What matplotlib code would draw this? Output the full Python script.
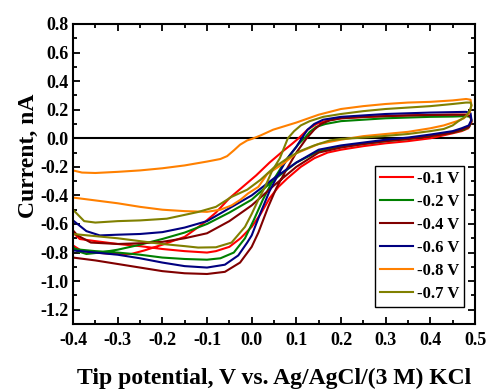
import matplotlib
matplotlib.use("Agg")
import matplotlib.pyplot as plt
from matplotlib.ticker import MultipleLocator

plt.rcParams["font.family"] = ["Liberation Serif", "DejaVu Serif"]
plt.rcParams["font.weight"] = "bold"
plt.rcParams["axes.unicode_minus"] = False

# tip CVs, one closed loop per substrate potential (x in V, y in nA)
red_x = [-0.40, -0.38, -0.35, -0.31, -0.27, -0.24, -0.20, -0.15, -0.11, -0.08, -0.05, -0.02, 0.01, 0.04, 0.07, 0.09, 0.105, 0.125, 0.145, 0.17, 0.20, 0.25, 0.30, 0.35, 0.40, 0.45, 0.48, 0.49,
         0.492, 0.485, 0.47, 0.45, 0.40, 0.35, 0.30, 0.25, 0.20, 0.17, 0.14, 0.11, 0.08, 0.06, 0.04, 0.02, 0.00, -0.025, -0.05, -0.08, -0.10, -0.15, -0.20, -0.25, -0.30, -0.35, -0.385, -0.40]
red_y = [-0.75, -0.79, -0.80, -0.81, -0.81, -0.785, -0.745, -0.69, -0.60, -0.52, -0.42, -0.34, -0.26, -0.17, -0.09, -0.04, 0.00, 0.06, 0.10, 0.125, 0.14, 0.148, 0.155, 0.16, 0.163, 0.165, 0.165, 0.15,
         0.11, 0.07, 0.05, 0.035, 0.00, -0.02, -0.035, -0.055, -0.08, -0.10, -0.14, -0.20, -0.28, -0.34, -0.42, -0.53, -0.62, -0.70, -0.76, -0.79, -0.80, -0.79, -0.775, -0.755, -0.74, -0.72, -0.705, -0.66]

green_x = [-0.40, -0.35, -0.30, -0.25, -0.20, -0.15, -0.10, -0.07, -0.04, -0.015, 0.005, 0.025, 0.045, 0.065, 0.085, 0.105, 0.118, 0.13, 0.145, 0.165, 0.20, 0.25, 0.30, 0.35, 0.40, 0.45, 0.48, 0.49,
           0.492, 0.487, 0.475, 0.45, 0.40, 0.35, 0.30, 0.25, 0.20, 0.15, 0.10, 0.05, 0.00, -0.05, -0.10, -0.15, -0.20, -0.25, -0.30, -0.34, -0.37, -0.39, -0.40]
green_y = [-0.775, -0.79, -0.80, -0.815, -0.835, -0.845, -0.85, -0.84, -0.80, -0.70, -0.57, -0.43, -0.31, -0.21, -0.12, -0.04, 0.00, 0.045, 0.08, 0.10, 0.12, 0.13, 0.14, 0.145, 0.15, 0.152, 0.155, 0.15,
           0.12, 0.08, 0.06, 0.04, 0.015, -0.005, -0.02, -0.04, -0.06, -0.09, -0.17, -0.29, -0.43, -0.52, -0.60, -0.66, -0.705, -0.745, -0.78, -0.80, -0.81, -0.79, -0.76]

brown_x = [-0.40, -0.35, -0.30, -0.25, -0.20, -0.15, -0.10, -0.06, -0.026, 0.00, 0.015, 0.037, 0.055, 0.075, 0.10, 0.123, 0.14, 0.155, 0.175, 0.20, 0.25, 0.30, 0.35, 0.40, 0.45, 0.48, 0.49,
           0.492, 0.486, 0.47, 0.45, 0.40, 0.35, 0.30, 0.25, 0.20, 0.15, 0.10, 0.05, 0.00, -0.05, -0.10, -0.15, -0.20, -0.25, -0.30, -0.36, -0.39, -0.40]
brown_y = [-0.835, -0.855, -0.88, -0.905, -0.93, -0.945, -0.95, -0.935, -0.87, -0.76, -0.66, -0.48, -0.35, -0.235, -0.10, 0.00, 0.06, 0.10, 0.125, 0.14, 0.15, 0.155, 0.16, 0.163, 0.165, 0.165, 0.155,
           0.12, 0.08, 0.06, 0.04, 0.015, -0.005, -0.02, -0.04, -0.065, -0.10, -0.20, -0.33, -0.47, -0.58, -0.665, -0.70, -0.725, -0.735, -0.74, -0.73, -0.68, -0.645]

blue_x = [-0.40, -0.35, -0.30, -0.25, -0.20, -0.15, -0.10, -0.06, -0.03, -0.01, 0.00, 0.02, 0.04, 0.06, 0.08, 0.10, 0.112, 0.125, 0.14, 0.16, 0.20, 0.25, 0.30, 0.35, 0.40, 0.45, 0.48, 0.49,
          0.492, 0.486, 0.47, 0.45, 0.40, 0.35, 0.30, 0.25, 0.20, 0.15, 0.10, 0.05, 0.00, -0.05, -0.10, -0.15, -0.20, -0.25, -0.30, -0.34, -0.37, -0.39, -0.40]
blue_y = [-0.785, -0.80, -0.815, -0.84, -0.87, -0.895, -0.905, -0.885, -0.82, -0.73, -0.68, -0.52, -0.37, -0.25, -0.14, -0.06, 0.00, 0.06, 0.10, 0.13, 0.15, 0.16, 0.17, 0.175, 0.18, 0.183, 0.185, 0.175,
          0.13, 0.09, 0.07, 0.05, 0.026, 0.005, -0.01, -0.03, -0.05, -0.08, -0.17, -0.28, -0.40, -0.49, -0.58, -0.625, -0.657, -0.67, -0.675, -0.68, -0.65, -0.60, -0.575]

orange_x = [-0.40, -0.38, -0.35, -0.30, -0.25, -0.20, -0.15, -0.10, -0.07, -0.055, -0.04, -0.026, -0.01, 0.00, 0.02, 0.048, 0.10, 0.15, 0.20, 0.25, 0.30, 0.35, 0.40, 0.45, 0.48, 0.49,
            0.492, 0.488, 0.475, 0.46, 0.43, 0.40, 0.35, 0.30, 0.25, 0.20, 0.15, 0.10, 0.07, 0.035, 0.015, -0.008, -0.025, -0.045, -0.07, -0.10, -0.15, -0.20, -0.25, -0.30, -0.35, -0.40]
orange_y = [-0.225, -0.24, -0.243, -0.235, -0.225, -0.21, -0.19, -0.163, -0.145, -0.125, -0.085, -0.045, -0.015, -0.005, 0.02, 0.06, 0.11, 0.165, 0.205, 0.225, 0.24, 0.25, 0.255, 0.265, 0.275, 0.27,
            0.23, 0.18, 0.14, 0.12, 0.09, 0.07, 0.045, 0.03, 0.015, -0.01, -0.04, -0.105, -0.18, -0.25, -0.34, -0.386, -0.43, -0.47, -0.50, -0.515, -0.51, -0.50, -0.48, -0.455, -0.435, -0.415]

olive_x = [-0.40, -0.35, -0.30, -0.25, -0.20, -0.15, -0.12, -0.08, -0.045, -0.015, 0.00, 0.015, 0.03, 0.045, 0.063, 0.081, 0.095, 0.11, 0.13, 0.16, 0.20, 0.25, 0.30, 0.35, 0.40, 0.45, 0.48, 0.49,
           0.492, 0.488, 0.478, 0.463, 0.45, 0.43, 0.40, 0.35, 0.29, 0.25, 0.20, 0.175, 0.14, 0.108, 0.08, 0.048, 0.02, -0.01, -0.045, -0.08, -0.12, -0.19, -0.25, -0.30, -0.35, -0.375, -0.40]
olive_y = [-0.67, -0.685, -0.70, -0.72, -0.74, -0.755, -0.765, -0.763, -0.73, -0.62, -0.53, -0.43, -0.34, -0.233, -0.14, 0.00, 0.05, 0.09, 0.12, 0.15, 0.17, 0.19, 0.205, 0.215, 0.225, 0.24, 0.25, 0.25,
           0.23, 0.19, 0.15, 0.12, 0.09, 0.065, 0.05, 0.03, 0.014, 0.005, -0.005, -0.015, -0.05, -0.09, -0.14, -0.21, -0.29, -0.36, -0.41, -0.48, -0.516, -0.563, -0.575, -0.58, -0.59, -0.58, -0.50]

series = [
    ("-0.1 V", red_x, red_y, "#ff0000"),
    ("-0.2 V", green_x, green_y, "#008000"),
    ("-0.4 V", brown_x, brown_y, "#800000"),
    ("-0.6 V", blue_x, blue_y, "#000080"),
    ("-0.8 V", orange_x, orange_y, "#ff8000"),
    ("-0.7 V", olive_x, olive_y, "#808000"),
]

fig = plt.figure(figsize=(4.88, 3.92), dpi=100)
ax = fig.add_axes([0.1496, 0.1735, 0.8238, 0.7653])

ax.axhline(0, color="black", lw=1.5, zorder=1)
for label, xs, ys, c in series:
    ax.plot(xs, ys, color=c, lw=1.5, label=label, zorder=2)

ax.set_xlim(-0.4, 0.5)
ax.set_ylim(-1.3, 0.8)
ax.xaxis.set_major_locator(MultipleLocator(0.1))
ax.xaxis.set_minor_locator(MultipleLocator(0.05))
ax.yaxis.set_minor_locator(MultipleLocator(0.1))
ax.set_yticks([-1.2, -1.0, -0.8, -0.6, -0.4, -0.2, 0.0, 0.2, 0.4, 0.6, 0.8])
ax.tick_params(which="both", direction="in", top=True, right=True, width=1.3, labelsize=13)
ax.tick_params(axis="x", which="major", pad=6)
ax.tick_params(which="major", length=5)
ax.tick_params(which="minor", length=3)
for s in ax.spines.values():
    s.set_linewidth(1.5)

ax.set_xlabel("Tip potential, V vs. Ag/AgCl/(3 M) KCl", fontsize=17, fontweight="bold")
ax.set_ylabel("Current, nA", fontsize=17, fontweight="bold")
ax.xaxis.set_label_coords(0.5, -0.145)
ax.yaxis.set_label_coords(-0.085, 0.56)

leg = ax.legend(loc="upper left", bbox_to_anchor=(0.751, 0.527), borderaxespad=0,
                fontsize=12, frameon=True, fancybox=False, framealpha=1,
                edgecolor="black", handlelength=2.0, handletextpad=0.2,
                labelspacing=0.42, borderpad=0.3)
leg.get_frame().set_linewidth(1.0)

fig.savefig("out.png", dpi=100)
